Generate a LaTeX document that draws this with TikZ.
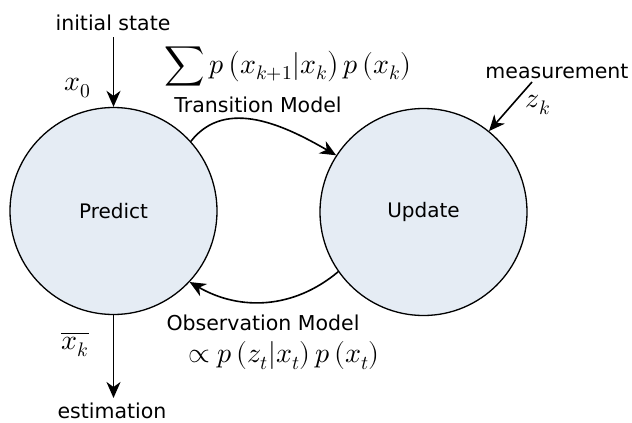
\documentclass[tikz,border=0pt]{standalone}
\usepackage{fontspec}
\setmainfont{DejaVu Sans}
\usepackage{unicode-math}
\setmathfont{Latin Modern Math}
\usetikzlibrary{arrows.meta}
\definecolor{statefill}{RGB}{229,236,244}
\tikzset{
  state/.style={circle, draw=black, line width=1.3pt, fill=statefill, minimum size=207pt, inner sep=0pt, font=\fontsize{20}{24}\selectfont},
  lbl/.style={font=\fontsize{20.5}{24}\selectfont, inner sep=0pt},
  mlbl/.style={font=\fontsize{28}{32}\selectfont, inner sep=0pt},
  flow/.style={line width=1.6pt, -{Stealth[length=16pt,width=14pt,inset=5pt]}}
}
\begin{document}
\begin{tikzpicture}[x=1pt,y=-1pt]
\useasboundingbox (0,0) rectangle (632,423);
% the two filter stages
\node[state] (P) at (113.5,211) {Predict};
\node[state] (U) at (423.5,212) {Update};
% input and output labels
\node[lbl] (init) at (113,23) {initial state};
\node[lbl] (est) at (112,411) {estimation};
\node[lbl] (meas) at (557,71) {measurement};
\node[lbl] (trans) at (258,105) {Transition Model};
\node[lbl] (obs) at (263,323) {Observation Model};
% formulas
\node[mlbl] (sum) at (288,66) {$\displaystyle\sum p\left(x_{k+1}|x_k\right)p\left(x_k\right)$};
\node[mlbl] (prop) at (284,356) {$\propto p\left(z_t|x_t\right)p\left(x_t\right)$};
\node[mlbl] (x0) at (78,88) {$x_0$};
\node[mlbl] (zk) at (538,105) {$z_k$};
\node[mlbl] (xk) at (75,344) {$\overline{x_k}$};
% connector ends
\coordinate (inittop) at (113.5,37);
\coordinate (estbot) at (113.5,398);
\coordinate (meastop) at (532,82);
% connectors
\draw[flow] (inittop) -- (P.north);
\draw[flow] (P.south) -- (estbot);
\draw[flow] (meastop) -- (U.51);
\draw[flow] (P.42) to[out=52,in=150] (U.147);
\draw[flow] (U.215) to[out=220,in=-30] (P.-43);
\end{tikzpicture}
\end{document}
